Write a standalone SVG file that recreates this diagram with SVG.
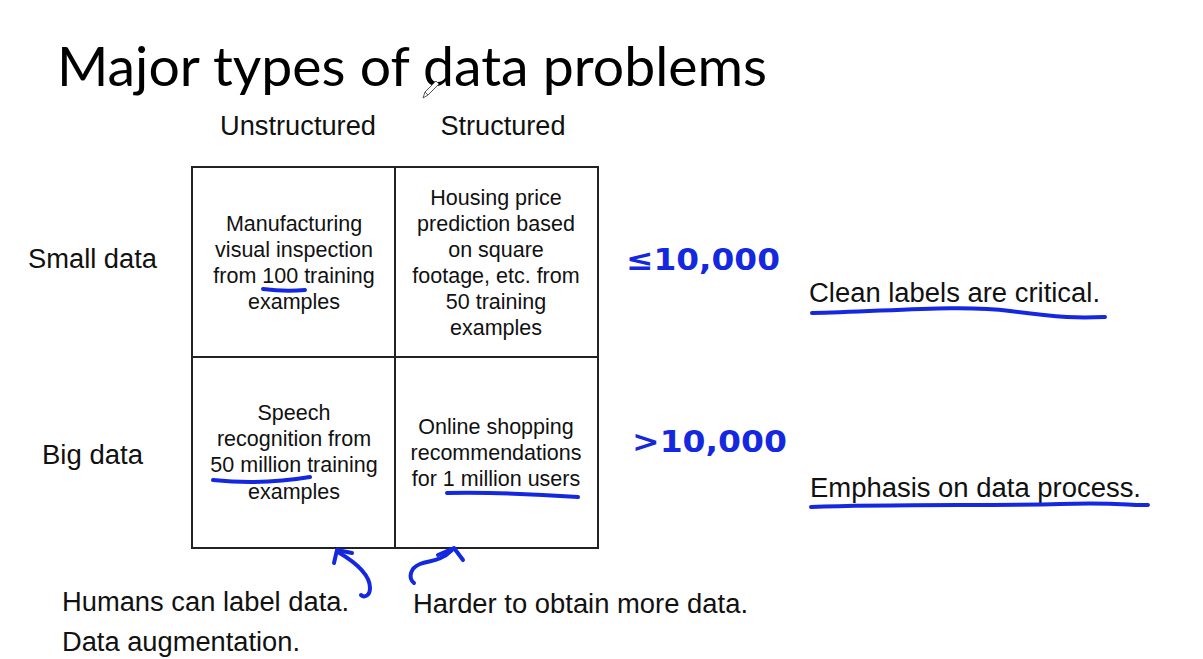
<svg xmlns="http://www.w3.org/2000/svg" width="1203" height="659" viewBox="0 0 1203 659">
<style>
.t{font-family:"Liberation Sans",Arial,sans-serif;fill:#111;}
.cell{font-size:21.5px;text-anchor:middle;}
.lab{font-size:27px;}
.hand{font-family:"DejaVu Sans","Liberation Sans",sans-serif;font-weight:bold;fill:#1428e0;font-size:30px;}
.ink{fill:none;stroke:#1428e0;stroke-width:4;stroke-linecap:round;stroke-linejoin:round;}
.grid{fill:none;stroke:#222;stroke-width:2;}
</style>
<rect width="1203" height="659" fill="#fff"/>
<g id="title">
<text x="57" y="86" font-family="Lato,'Open Sans',sans-serif" font-size="54" fill="#000" textLength="710" lengthAdjust="spacingAndGlyphs">Major types of data problems</text>
<path d="M423,98 L425,92 L436,81 L439,84 L428,95 Z M425,92 L428,95" fill="#fff" stroke="#555" stroke-width="1"/>
</g>
<g id="col-headers">
<text class="t lab" x="298" y="135" text-anchor="middle" textLength="156" lengthAdjust="spacingAndGlyphs">Unstructured</text>
<text class="t lab" x="503" y="135" text-anchor="middle" textLength="125" lengthAdjust="spacingAndGlyphs">Structured</text>
</g>
<g id="row-headers">
<text class="t lab" x="28" y="268" textLength="129" lengthAdjust="spacingAndGlyphs">Small data</text>
<text class="t lab" x="42" y="464" textLength="101" lengthAdjust="spacingAndGlyphs">Big data</text>
</g>
<g id="grid">
<rect class="grid" x="192" y="167" width="406" height="381"/>
<line class="grid" x1="395" y1="167" x2="395" y2="548"/>
<line class="grid" x1="192" y1="357" x2="598" y2="357"/>
</g>
<g id="cell-small-unstructured">
<text class="t cell" x="294" y="231">Manufacturing</text>
<text class="t cell" x="294" y="257">visual inspection</text>
<text class="t cell" x="294" y="283">from 100 training</text>
<text class="t cell" x="294" y="309">examples</text>
</g>
<g id="cell-small-structured">
<text class="t cell" x="496" y="205">Housing price</text>
<text class="t cell" x="496" y="231">prediction based</text>
<text class="t cell" x="496" y="257">on square</text>
<text class="t cell" x="496" y="283">footage, etc. from</text>
<text class="t cell" x="496" y="309">50 training</text>
<text class="t cell" x="496" y="335">examples</text>
</g>
<g id="cell-big-unstructured">
<text class="t cell" x="294" y="420">Speech</text>
<text class="t cell" x="294" y="446">recognition from</text>
<text class="t cell" x="294" y="472">50 million training</text>
<text class="t cell" x="294" y="499">examples</text>
</g>
<g id="cell-big-structured">
<text class="t cell" x="496" y="434">Online shopping</text>
<text class="t cell" x="496" y="460">recommendations</text>
<text class="t cell" x="496" y="486">for 1 million users</text>
</g>
<g id="thresholds">
<text class="hand" x="626" y="270" textLength="154" lengthAdjust="spacingAndGlyphs">≤10,000</text>
<text class="hand" x="632" y="452" textLength="155" lengthAdjust="spacingAndGlyphs">&gt;10,000</text>
</g>
<g id="notes">
<text class="t lab" x="809" y="302" textLength="291" lengthAdjust="spacingAndGlyphs">Clean labels are critical.</text>
<text class="t lab" x="810" y="497" textLength="331" lengthAdjust="spacingAndGlyphs">Emphasis on data process.</text>
<text class="t lab" x="62" y="611" textLength="287" lengthAdjust="spacingAndGlyphs">Humans can label data.</text>
<text class="t lab" x="413" y="613" textLength="335" lengthAdjust="spacingAndGlyphs">Harder to obtain more data.</text>
<text class="t lab" x="62" y="651" textLength="238" lengthAdjust="spacingAndGlyphs">Data augmentation.</text>
</g>
<g id="connectors">
<path class="ink" d="M263,289 Q285,292 305,290"/>
<path class="ink" d="M213,480 Q262,485 310,477"/>
<path class="ink" d="M447,493 Q510,492 578,497"/>
<path class="ink" d="M812,313 C880,312 960,304 1010,311 S1080,318 1105,317"/>
<path class="ink" d="M811,507 C900,504 1000,506 1060,504 S1130,506 1148,505"/>
<path class="ink" d="M338,552 C355,562 370,575 370,588 C370,596 364,598 361,595"/>
<path class="ink" d="M334,563 L337,550 L352,553"/>
<path class="ink" d="M414,583 C408,578 410,568 420,564 C430,560 440,562 452,550"/>
<path class="ink" d="M438,555 L454,548 L463,560"/>
</g>
</svg>
